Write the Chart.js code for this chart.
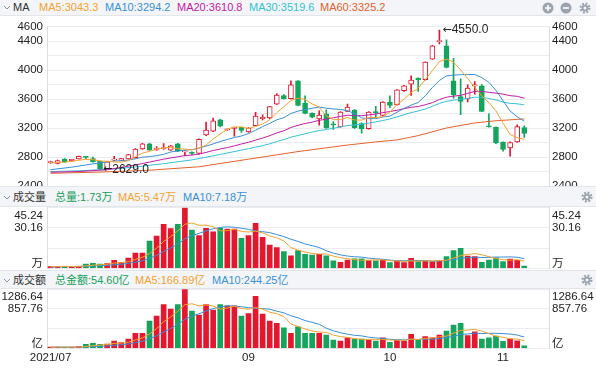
<!DOCTYPE html>
<html>
<head>
<meta charset="utf-8">
<script src="https://cdn.jsdelivr.net/npm/chart.js"></script>
<style>
  body { margin: 0; width: 596px; height: 368px; background: #fff; overflow: hidden; position: relative;
         font-family: "Liberation Sans", "Noto Sans CJK SC", sans-serif; }
  .hd { position: absolute; left: 0; width: 596px; background: #f3f5f8; font-size: 11px;
        white-space: nowrap; box-sizing: border-box; }
  .hd span, .hd svg { position: absolute; }
  canvas { position: absolute; left: 0; }
</style>
</head>
<body>
  <!-- K-line header -->
  <div class="hd" style="top:0;height:16px;line-height:15px;border-bottom:1px solid #e2e5e9">
    <svg style="left:3px;top:4px" width="8" height="7"><polyline points="1,2 4,5 7,2" fill="none" stroke="#8a9199" stroke-width="1"/></svg>
    <span style="left:13px;color:#333">MA</span>
    <span style="left:39px;color:#f4a32f">MA5:3043.3</span>
    <span style="left:105px;color:#3990d6">MA10:3294.2</span>
    <span style="left:177px;color:#c21ca6">MA20:3610.8</span>
    <span style="left:249px;color:#35c2d4">MA30:3519.6</span>
    <span style="left:320px;color:#e4622c">MA60:3325.2</span>
    <svg style="left:542px;top:2px" width="12" height="12" viewBox="-6 -6 12 12"><circle r="5.5" fill="#9ba4ae"/><path d="M-3 0H3M0 -3V3" stroke="#fff" stroke-width="1.6"/></svg>
    <svg style="left:560px;top:2px" width="12" height="12" viewBox="-6 -6 12 12"><circle r="5.5" fill="#9ba4ae"/><path d="M-3 0H3" stroke="#fff" stroke-width="1.6"/></svg>
    <svg style="left:579px;top:2px" width="12" height="12" viewBox="-6 -6 12 12"><circle r="4" fill="none" stroke="#9ba4ae" stroke-width="3" stroke-dasharray="1.7 1.44"/><circle r="3.3" fill="#9ba4ae"/><circle r="1.5" fill="#f3f5f8"/></svg>
  </div>
  <canvas id="kline" width="596" height="170" style="top:16px"></canvas>

  <!-- volume header -->
  <div class="hd" style="top:186px;height:21px;line-height:21px;border-top:1px solid #e2e5e9;border-bottom:1px solid #e2e5e9">
    <svg style="left:3px;top:7px" width="8" height="7"><polyline points="1,2 4,5 7,2" fill="none" stroke="#8a9199" stroke-width="1"/></svg>
    <span style="left:13px;color:#333">成交量</span>
    <span style="left:55px;color:#18a058">总量:1.73万</span>
    <span style="left:118px;color:#f4a32f">MA5:5.47万</span>
    <span style="left:183px;color:#3990d6">MA10:7.18万</span>
    <svg style="left:581px;top:4px" width="12" height="12" viewBox="-6 -6 12 12"><circle r="4" fill="none" stroke="#9ba4ae" stroke-width="3" stroke-dasharray="1.7 1.44"/><circle r="3.3" fill="#9ba4ae"/><circle r="1.5" fill="#f3f5f8"/></svg>
  </div>
  <canvas id="vol" width="596" height="63" style="top:207px"></canvas>

  <!-- amount header -->
  <div class="hd" style="top:270px;height:19px;line-height:18px;border-top:1px solid #e2e5e9;border-bottom:1px solid #e2e5e9">
    <svg style="left:3px;top:6px" width="8" height="7"><polyline points="1,2 4,5 7,2" fill="none" stroke="#8a9199" stroke-width="1"/></svg>
    <span style="left:13px;color:#333">成交额</span>
    <span style="left:55px;color:#18a058">总金额:54.60亿</span>
    <span style="left:135px;color:#f4a32f">MA5:166.89亿</span>
    <span style="left:212px;color:#3990d6">MA10:244.25亿</span>
    <svg style="left:581px;top:3px" width="12" height="12" viewBox="-6 -6 12 12"><circle r="4" fill="none" stroke="#9ba4ae" stroke-width="3" stroke-dasharray="1.7 1.44"/><circle r="3.3" fill="#9ba4ae"/><circle r="1.5" fill="#f3f5f8"/></svg>
  </div>
  <canvas id="amt" width="596" height="79" style="top:289px"></canvas>

  <script>
    // daily candles, 2021/07 .. 2021/11
    const opens = [2722,2712,2772,2750,2775,2798,2778,2740,2640,2755,
      2755,2775,2790,2912,2980,2905,2915,2895,2982,2870,
      2862,2850,3105,3155,3312,3172,3195,3208,3145,3232,
      3330,3338,3530,3648,3605,3850,3545,3405,3325,3395,
      3250,3215,3430,3448,3262,3192,3420,3375,3558,3520,
      3715,3805,3888,3865,4150,4390,4335,3850,3635,3603,
      3780,3782,3225,3208,3005,2925,3008,3205];
    const closes = [2730,2752,2730,2756,2808,2794,2733,2640,2733,2762,
      2778,2832,2910,2982,2895,2912,2925,2955,2880,2880,
      2848,3045,3170,3300,3225,3180,3202,3165,3200,3365,
      3340,3495,3655,3605,3795,3512,3402,3348,3377,3200,
      3242,3420,3488,3202,3192,3420,3410,3558,3512,3725,
      3782,3862,3865,4108,4335,4405,4035,3660,3568,3750,
      3790,3430,3215,2995,2905,3000,3220,3125];
    const highs = [2745,2758,2778,2765,2812,2805,2800,2745,2736,2810,
      2782,2836,2915,2990,2988,2945,2985,2960,2990,2890,
      2870,3050,3280,3338,3318,3185,3210,3212,3205,3415,
      3380,3500,3675,3660,3850,3855,3645,3410,3437,3450,
      3290,3425,3530,3455,3270,3425,3498,3565,3645,3730,
      3790,3920,3892,4112,4340,4550,4415,4160,3878,3795,
      3840,3800,3395,3215,3010,3010,3245,3230];
    const lows = [2710,2705,2725,2740,2770,2775,2728,2629,2632,2745,
      2750,2770,2785,2905,2890,2890,2905,2890,2875,2815,
      2830,2840,3095,3150,3215,3165,3088,3140,3140,3228,
      3310,3330,3525,3598,3600,3505,3395,3340,3240,3195,
      3180,3210,3425,3195,3130,3185,3340,3370,3480,3515,
      3705,3650,3705,3860,4145,4360,4030,3612,3385,3560,
      3667,3425,3210,2985,2880,2810,3000,3070];

    // moving averages (null = not read, line spans the gap)
    const ma5 = [2715,2725,2730,2738,2755,2768,2764,2746,2742,2732,
      2729,2749,2803,2853,2879,2906,2925,2934,2913,2910,
      2898,2922,2965,3049,3118,3184,3215,3214,3194,3222,
      3254,3313,3411,3492,3578,3612,3594,3532,3487,3368,
      3314,3317,3345,3310,3309,3344,3342,3356,3418,3525,
      3597,3688,3749,3868,3990,4115,4150,4109,4001,3884,
      3761,3640,3551,3436,3267,3109,3067,3043];
    const ma10 = [2625,null,null,2660,null,null,2705,null,null,2744,
      2749,2757,2775,2798,2806,2818,2837,2869,2883,2895,
      2902,2924,2950,2981,3014,3041,3069,3090,3122,3170,
      3219,3264,3313,3343,3400,3433,3454,3472,3490,3473,
      3463,3456,3439,3399,3339,3329,3330,3351,3364,3417,
      3471,3515,3553,3643,3758,3856,3919,3929,3935,3937,
      3938,3895,3830,3719,3576,3435,3354,3294];
    const ma20 = [2590,null,null,null,2600,null,null,null,2625,null,
      null,null,2690,null,null,null,2770,null,null,2820,
      2826,2841,2863,2890,2910,2930,2953,2980,3003,3033,
      3061,3094,3132,3162,3207,3237,3262,3281,3306,3322,
      3341,3360,3376,3371,3370,3381,3392,3412,3427,3445,
      3467,3486,3496,3521,3549,3593,3625,3640,3650,3677,
      3705,3705,3692,3681,3667,3646,3637,3611];
    const ma30 = [2598,null,null,null,2610,null,null,null,2628,null,
      null,null,2662,null,null,null,2708,null,null,null,
      2760,null,null,null,2835,null,null,null,2915,2936,
      2957,2982,3013,3041,3073,3097,3120,3144,3165,3179,
      3195,3215,3234,3241,3251,3268,3284,3304,3325,3353,
      3384,3412,3435,3462,3499,3539,3568,3584,3596,3609,
      3624,3622,3607,3587,3558,3540,3534,3520];
    const ma60 = [2575,null,null,null,null,null,null,2592,null,null,
      null,null,null,null,2618,null,null,null,null,null,
      null,2665,null,null,null,null,null,null,2770,null,
      null,null,null,null,null,2875,null,null,null,null,
      null,null,2965,null,null,null,3008,null,null,3035,
      null,null,3095,null,null,null,3200,null,null,null,
      3270,null,null,3300,null,null,null,3325];

    // volume (万) and amount (亿)
    const volume = [1.2,1.5,1.5,1.5,1.5,3.2,3.7,3.2,3.5,6.0,
      4.5,7.7,11.4,11.4,20.4,24.1,32.8,29.6,32.8,45.24,
      28.6,24.4,29.8,27.3,29.8,29.3,29.3,22.4,24.4,33.6,
      23.1,17.4,15.4,12.4,9.4,13.2,10.4,9.9,10.4,9.4,
      5.5,4.5,6.2,7.0,7.0,5.7,5.5,6.2,4.2,5.5,
      4.2,7.5,5.0,5.5,5.0,5.5,8.8,13.2,15.0,9.2,
      8.8,4.5,6.2,7.8,5.0,6.8,6.0,1.73];
    const volMa5 = [1.2,1.3,1.4,1.4,1.44,1.84,2.28,2.62,3.02,3.92,
      4.18,4.98,6.62,8.2,11.08,15.0,20.02,23.66,27.94,32.91,
      33.81,32.13,32.17,31.07,27.98,28.12,29.1,27.62,27.04,27.8,
      26.56,24.18,22.78,20.38,15.54,13.56,12.16,11.06,10.66,10.66,
      9.12,7.94,7.2,6.52,6.04,6.08,6.28,6.28,5.72,5.42,
      5.12,5.52,5.28,5.54,5.44,5.7,5.96,7.6,9.5,10.34,
      11.0,10.14,8.74,7.3,6.46,6.06,6.36,5.47];
    const volMa10 = [1.0,null,null,null,1.4,null,null,null,2.1,2.68,
      3.01,3.63,4.62,5.61,7.5,9.59,12.5,15.14,18.07,22.0,
      24.41,26.08,27.92,29.5,30.45,30.97,30.62,29.9,29.06,27.89,
      27.34,26.64,25.2,23.71,21.67,20.06,18.17,16.92,15.52,13.1,
      11.34,10.05,9.13,8.59,8.35,7.6,7.11,6.74,6.12,5.73,
      5.6,5.9,5.78,5.63,5.43,5.41,5.74,6.44,7.52,7.89,
      8.35,8.05,8.17,8.4,8.4,8.53,8.25,7.18];
    const amount = [29,29,22,22,36,87,108,87,94,159,
      123,202,325,325,593,701,954,853,954,1286.64,
      810,723,954,832,954,925,925,701,759,1135,
      745,593,542,448,325,470,325,325,325,289,
      181,159,231,202,202,181,159,231,130,181,
      159,304,181,253,231,289,376,506,545,275,
      360,200,228,265,150,200,165,54.6];
    const amtMa5 = [25,26,27,27,27.6,39.2,55,68,82.4,107,
      114.2,133,180.6,226.8,313.6,429.2,579.6,685.2,811,949.7,
      971.5,925.3,945.5,921.1,854.6,877.6,918,867.4,852.8,889,
      853,786.6,754.8,692.6,530.6,475.6,422,378.6,354,346.8,
      289,255.8,237,212.4,195,195,195,195,180.6,176.4,
      172,201,191,215.6,225.6,251.6,266,331,389.4,398.2,
      412.4,377.2,321.6,265.6,240.6,208.6,201.6,166.89];
    const amtMa10 = [24,null,null,null,28,null,null,null,50,67.3,
      76.7,94,124.3,154.6,210.3,271.7,356.3,432.9,518.9,631.7,
      700.4,752.5,815.4,866.1,902.2,924.6,921.7,906.5,887,871.8,
      865.3,852.3,811.1,772.7,709.8,664.3,604.3,566.7,523.3,438.7,
      382.3,338.9,307.8,283.2,270.9,242,225.4,216,196.5,185.7,
      183.5,198,193,198.1,201,211.8,233.5,261,302.5,311.9,
      332,321.6,326.3,327.5,319.4,310.5,289.4,244.25];

    // axes
    const SLOTS = 71;                       // 68 trading days + empty room on the right
    const monthIdx = [0, 28, 48, 64];
    const monthText = ['2021/07', '09', '10', '11'];
    const priceTicks = [2400,2600,2800,3000,3200,3400,3600,3800,4000,4200,4400,4600];
    const priceLabels = [2400,2800,3200,3600,4000,4400,4600];
    const volTicks = [0, 15.08, 30.16, 45.24];
    const volTickText = ['万', '', '30.16', '45.24'];
    const amtTicks = [0, 428.88, 857.76, 1286.64];
    const amtTickText = ['亿', '', '857.76', '1286.64'];

    const RED = '#e3172e', GREEN = '#14a45c';
    const FAMILY = '"Liberation Sans", "Noto Sans CJK SC", sans-serif';
    const GRID = '#eaecef', EDGE = '#d9dde2';
    const slots = Array.from({ length: SLOTS }, (_, i) => i);
    const isUp = i => closes[i] >= opens[i];

    function maLine(data, color) {
      return { type: 'line', data: data, borderColor: color, borderWidth: 1, pointRadius: 0,
               spanGaps: true, tension: 0, order: 0 };
    }

    function fitSide(w) {
      return s => { s.width = w; s.paddingTop = 0; s.paddingBottom = 0; };
    }

    // top/bottom labels sit inside the panel: shift them with an empty second line
    function sideAxis(position, ticks, texts, max, showGrid) {
      return {
        position: position, min: 0, max: max,
        afterBuildTicks: s => { s.ticks = ticks.map(v => ({ value: v })); },
        afterFit: fitSide(47),
        grid: { display: true, drawOnChartArea: showGrid, drawTicks: false, color: GRID },
        border: { color: EDGE },
        ticks: {
          autoSkip: false, padding: position === 'left' ? 4 : 3, color: '#222',
          font: c => ({ family: FAMILY, size: 11.5,
                        lineHeight: c.tick && c.tick.value === 0 ? '9px' : '16px' }),
          callback: v => {
            const k = ticks.indexOf(v);
            if (k === 0) return [texts[0], ''];
            if (k === ticks.length - 1) return ['', texts[k]];
            return texts[k];
          }
        }
      };
    }

    function priceAxis(position, showGrid) {
      return {
        position: position, min: 2400, max: 4600,
        afterBuildTicks: s => { s.ticks = priceTicks.map(v => ({ value: v })); },
        afterFit: fitSide(47),
        grid: { drawOnChartArea: showGrid, drawTicks: false, color: GRID },
        border: { color: EDGE },
        ticks: {
          autoSkip: false, padding: position === 'left' ? 4 : 3, color: '#222',
          font: { family: FAMILY, size: 11.5 },
          callback: v => priceLabels.includes(v) ? String(v) : ''
        }
      };
    }

    const hiddenX = { type: 'category', offset: true, display: false };

    // high / low markers: long arrow glyph, then the value
    const extremes = {
      id: 'extremes',
      afterDatasetsDraw(chart) {
        const { ctx, scales: { x, y } } = chart;
        const hi = highs.indexOf(Math.max(...highs));
        const lo = lows.indexOf(Math.min(...lows));
        ctx.save();
        ctx.fillStyle = '#222';
        ctx.textBaseline = 'middle';
        [[hi, highs[hi]], [lo, lows[lo]]].forEach(([i, v]) => {
          const px = x.getPixelForValue(i) + 3, py = y.getPixelForValue(v);
          ctx.font = '11px "DejaVu Sans", sans-serif';
          ctx.fillText('←', px, py);
          const w = ctx.measureText('←').width;
          ctx.font = '12px ' + FAMILY;
          ctx.fillText(v.toFixed(1), px + w, py);
        });
        ctx.restore();
      }
    };

    const common = { responsive: false, animation: false, devicePixelRatio: 1,
                     plugins: { legend: { display: false }, tooltip: { enabled: false } } };

    new Chart(document.getElementById('kline'), {
      data: {
        labels: slots,
        datasets: [
          maLine(ma5, '#f4a32f'),
          maLine(ma10, '#3990d6'),
          maLine(ma20, '#c21ca6'),
          maLine(ma30, '#35c2d4'),
          maLine(ma60, '#e4622c'),
          {
            type: 'bar', order: 1, grouped: false, barThickness: 5, minBarLength: 1.2,
            data: opens.map((o, i) => [o, closes[i]]),
            borderWidth: 1, borderSkipped: false,
            backgroundColor: c => isUp(c.dataIndex) ? '#fff' : GREEN,
            borderColor: c => isUp(c.dataIndex) ? RED : GREEN
          },
          {
            type: 'bar', order: 2, grouped: false, barThickness: 1,
            data: lows.map((l, i) => [l, highs[i]]),
            backgroundColor: c => isUp(c.dataIndex) ? RED : GREEN
          }
        ]
      },
      options: { ...common,
        layout: { padding: { top: 10.5, bottom: 0 } },
        scales: { x: hiddenX, y: priceAxis('left', true), y2: priceAxis('right', false) }
      },
      plugins: [extremes]
    });

    function flowChart(id, bars, m5, m10, ticks, texts, showX, pad) {
      const max = ticks[ticks.length - 1];
      const x = showX ? {
        type: 'category', offset: true,
        afterFit: s => { s.height = 19.7; },
        grid: { display: false, drawTicks: false }, border: { display: false },
        ticks: { autoSkip: false, maxRotation: 0, padding: 3, color: '#222',
                 font: { family: FAMILY, size: 11.5 },
                 callback: (v, i) => { const k = monthIdx.indexOf(i); return k >= 0 ? monthText[k] : null; } }
      } : hiddenX;
      new Chart(document.getElementById(id), {
        data: {
          labels: slots,
          datasets: [
            maLine(m5, '#f4a32f'),
            maLine(m10, '#3990d6'),
            { type: 'bar', order: 1, barThickness: 5, data: bars,
              backgroundColor: c => isUp(c.dataIndex) ? RED : GREEN }
          ]
        },
        options: { ...common,
          layout: { padding: pad },
          scales: { x: x, y: sideAxis('left', ticks, texts, max, true),
                    y2: sideAxis('right', ticks, texts, max, false) }
        }
      });
    }

    flowChart('vol', volume, volMa5, volMa10, volTicks, volTickText, false, { top: 0.7, bottom: 1.7 });
    flowChart('amt', amount, amtMa5, amtMa10, amtTicks, amtTickText, true, { top: 0.3 });
  </script>
</body>
</html>
